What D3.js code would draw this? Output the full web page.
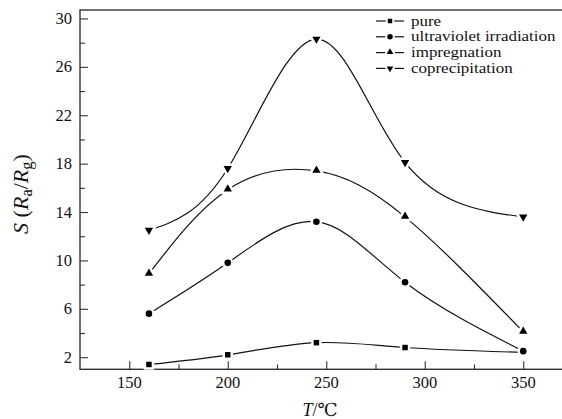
<!DOCTYPE html>
<html><head><meta charset="utf-8">
<script src="https://cdn.jsdelivr.net/npm/d3@7/dist/d3.min.js"></script>
<style>
html,body{margin:0;padding:0;background:#fff;}
svg{display:block;}
</style></head>
<body>
<svg id="chart" width="562" height="419" font-family="'Liberation Serif', 'DejaVu Serif', 'Times New Roman', serif"></svg>
<script>
const temperatures = [160, 200, 245, 290, 350];
const seriesNames = ["pure", "ultraviolet irradiation", "impregnation", "coprecipitation"];
const pureValues = [1.4, 2.2, 3.2, 2.8, 2.4];
const uvValues = [5.6, 9.8, 13.2, 8.2, 2.5];
const impregnationValues = [8.9, 15.85, 17.4, 13.6, 4.1];
const coprecipitationValues = [12.5, 17.6, 28.3, 18.1, 13.6];
const xMajorTicks = [150, 200, 250, 300, 350];
const xMinorTicks = [175, 225, 275, 325];
const yMajorTicks = [2, 6, 10, 14, 18, 22, 26, 30];
const yMinorTicks = [4, 8, 12, 16, 20, 24, 28];
const markerShapes = ["square", "circle", "triangle", "triangleDown"];

const allValues = [pureValues, uvValues, impregnationValues, coprecipitationValues];
const FONT = "'Liberation Serif', 'DejaVu Serif', 'Times New Roman', serif";

const svg = d3.select("#chart");
const L = 80, T = 10, B = 369.3;
const x = d3.scaleLinear().domain([125, 375]).range([L, 572.5]);
const y = d3.scaleLinear().domain([1, 30.7]).range([B, T]);

const axisColor = "#333";

// Frame
svg.append("rect").attr("x", L).attr("y", T).attr("width", x(375) - L).attr("height", B - T)
  .attr("fill", "none").attr("stroke", axisColor).attr("stroke-width", 1.4);

// Y axis ticks (inward)
const yAxisMajor = d3.axisRight(y).tickValues(yMajorTicks).tickSize(8).tickFormat("");
const yAxisMinor = d3.axisRight(y).tickValues(yMinorTicks).tickSize(5).tickFormat("");
[yAxisMajor, yAxisMinor].forEach(a => {
  const g = svg.append("g").attr("transform", `translate(${L},0)`).call(a);
  g.select(".domain").remove();
  g.selectAll("line").attr("stroke", axisColor).attr("stroke-width", 1.1);
});
svg.append("g").selectAll("text").data(yMajorTicks).join("text")
  .attr("font-family", FONT).attr("fill", "#111")
  .attr("x", L - 8).attr("y", d => y(d)).attr("dy", "0.34em")
  .attr("text-anchor", "end").attr("font-size", 16.5).text(d => d);

// X axis ticks (inward)
const xAxisMajor = d3.axisTop(x).tickValues(xMajorTicks).tickSize(8).tickFormat("");
const xAxisMinor = d3.axisTop(x).tickValues(xMinorTicks).tickSize(5).tickFormat("");
[xAxisMajor, xAxisMinor].forEach(a => {
  const g = svg.append("g").attr("transform", `translate(0,${B})`).call(a);
  g.select(".domain").remove();
  g.selectAll("line").attr("stroke", axisColor).attr("stroke-width", 1.1);
});
svg.append("g").selectAll("text").data(xMajorTicks).join("text")
  .attr("font-family", FONT).attr("fill", "#111")
  .attr("x", d => x(d)).attr("y", B + 19)
  .attr("text-anchor", "middle").attr("font-size", 16.5).text(d => d);

// Axis titles
const xt = svg.append("text").attr("font-family", FONT).attr("fill", "#111")
  .attr("x", 320).attr("y", 416).attr("text-anchor", "middle").attr("font-size", 18);
xt.append("tspan").attr("font-style", "italic").text("T");
xt.append("tspan").text("/℃");

const yt = svg.append("text").attr("font-family", FONT).attr("fill", "#111")
  .attr("transform", "translate(28,194) rotate(-90)")
  .attr("text-anchor", "middle").attr("font-size", 22);
yt.append("tspan").attr("font-style", "italic").text("S");
yt.append("tspan").text(" (");
yt.append("tspan").attr("font-style", "italic").text("R");
yt.append("tspan").attr("font-size", 16.5).attr("dy", 4).text("a");
yt.append("tspan").attr("dy", -4).text("/");
yt.append("tspan").attr("font-style", "italic").text("R");
yt.append("tspan").attr("font-size", 16.5).attr("dy", 4).text("g");
yt.append("tspan").attr("dy", -4).text(")");

// Marker symbols
function symPath(shape, size) {
  if (shape === "square") return d3.symbol(d3.symbolSquare, size)();
  if (shape === "circle") return d3.symbol(d3.symbolCircle, size + 4)();
  return d3.symbol(d3.symbolTriangle, size)();
}
function symTransform(shape, px, py) {
  if (shape === "triangleDown") return `translate(${px},${py}) rotate(180)`;
  if (shape === "triangle") return `translate(${px},${py - 0.5})`;
  return `translate(${px},${py})`;
}

const line = d3.line().x(d => x(d.t)).y(d => y(d.v)).curve(d3.curveNatural);

allValues.forEach((vals, i) => {
  const pts = temperatures.map((t, j) => ({t, v: vals[j]}));
  svg.append("path").datum(pts).attr("d", line)
    .attr("fill", "none").attr("stroke", "#111").attr("stroke-width", 1.2);
});
allValues.forEach((vals, i) => {
  const pts = temperatures.map((t, j) => ({t, v: vals[j]}));
  const shape = markerShapes[i];
  const g = svg.append("g");
  g.selectAll("path.halo").data(pts).join("path").attr("class", "halo")
    .attr("d", symPath(shape, 30)).attr("transform", d => symTransform(shape, x(d.t), y(d.v)))
    .attr("fill", "#fff").attr("stroke", "#fff").attr("stroke-width", 5);
  g.selectAll("path.mk").data(pts).join("path").attr("class", "mk")
    .attr("d", symPath(shape, 30)).attr("transform", d => symTransform(shape, x(d.t), y(d.v)))
    .attr("fill", "#000");
});

// Legend
const legend = svg.append("g");
seriesNames.forEach((name, i) => {
  const ly = 21 + i * 15.8;
  const shape = markerShapes[i];
  legend.append("line").attr("x1", 376).attr("x2", 404).attr("y1", ly).attr("y2", ly)
    .attr("stroke", "#111").attr("stroke-width", 1.2);
  legend.append("path").attr("d", symPath(shape, 20))
    .attr("transform", symTransform(shape, 390, ly)).attr("fill", "#000")
    .attr("stroke", "#fff").attr("stroke-width", 4).attr("paint-order", "stroke");
  legend.append("text").attr("font-family", FONT).attr("fill", "#111")
    .attr("transform", `translate(411,${ly}) scale(1.17,1)`)
    .attr("dy", "0.32em")
    .attr("font-size", 14.5).text(name);
});
</script>
</body></html>
